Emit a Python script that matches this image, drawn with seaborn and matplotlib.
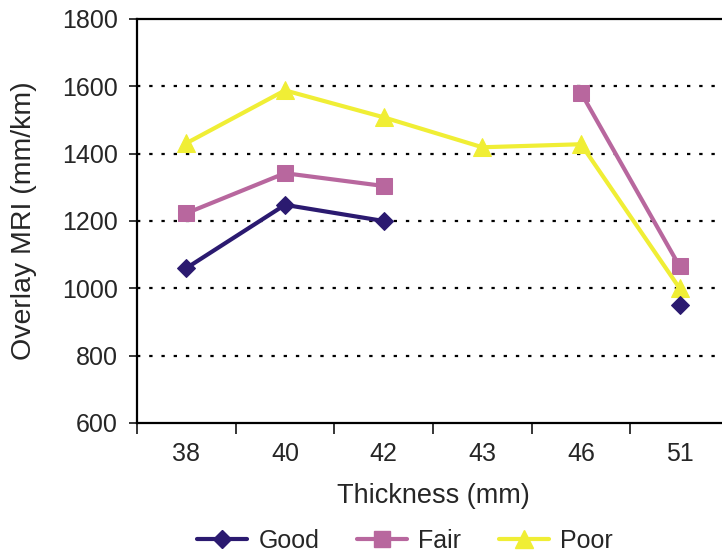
import numpy as np
import pandas as pd
import matplotlib
matplotlib.use("Agg")
import matplotlib.pyplot as plt
from matplotlib.lines import Line2D
import seaborn as sns

categories = ["38", "40", "42", "43", "46", "51"]
good = [1060, 1248, 1200, np.nan, np.nan, 950]
fair = [1223, 1342, 1304, np.nan, 1581, 1065]
poor = [1431, 1588, 1508, 1419, 1428, 1000]
y_ticks = [600, 800, 1000, 1200, 1400, 1600, 1800]

series = {"Good": good, "Fair": fair, "Poor": poor}
colors = {"Good": "#2b1a70", "Fair": "#b8679e", "Poor": "#f0ee35"}
markers = {"Good": "D", "Fair": "s", "Poor": "^"}
msizes = {"Good": 9.5, "Fair": 11.5, "Poor": 13}

rows = []
for name, vals in series.items():
    seg = 0
    for i, v in enumerate(vals):
        if np.isnan(v):
            seg += 1
            continue
        rows.append({"series": name, "pos": i, "value": v, "seg": seg})
df = pd.DataFrame(rows)

sns.set_style("white")
plt.rcParams["font.family"] = ["Liberation Sans", "DejaVu Sans"]

fig = plt.figure(figsize=(7.22, 5.57), dpi=100)
ax = fig.add_axes([137 / 722, (557 - 423) / 557, 592 / 722, 404 / 557])

for name in ["Fair", "Poor", "Good"]:
    sub = df[df["series"] == name]
    for s, g in sub.groupby("seg"):
        sns.lineplot(data=g, x="pos", y="value", ax=ax, color=colors[name],
                     marker=markers[name], markersize=msizes[name],
                     markeredgecolor=colors[name], linewidth=3,
                     estimator=None, sort=False, legend=False, zorder=3)

ax.set_xlim(-0.5, 5.5)
ax.set_ylim(600, 1800)
ax.set_yticks(y_ticks)
ax.set_yticklabels([str(t) for t in y_ticks], fontsize=18)
ax.set_xticks(range(len(categories)))
ax.set_xticklabels(categories, fontsize=18)
ax.set_xticks(np.arange(-0.5, 5.6, 1.0), minor=True)
ax.tick_params(axis="x", which="major", length=0, pad=14)
ax.tick_params(axis="x", which="minor", length=8, width=1.3, direction="out", bottom=True)
ax.tick_params(axis="y", length=6, width=1.3, direction="out", left=True, pad=8)

for t in y_ticks[1:-1]:
    ax.axhline(t, color="black", linestyle=(0, (1.5, 4)), linewidth=1.6, zorder=1)

for sp in ["left", "top", "bottom"]:
    ax.spines[sp].set_color("black")
    ax.spines[sp].set_linewidth(1.6)
ax.spines["right"].set_visible(False)

ax.set_xlabel("Thickness (mm)", fontsize=19.5, labelpad=12)
ax.set_ylabel("Overlay MRI (mm/km)", fontsize=20.5, labelpad=18)

handles = [Line2D([0], [0], color=colors[n], marker=markers[n], markersize=msizes[n],
                  markeredgecolor=colors[n], linewidth=3) for n in ["Good", "Fair", "Poor"]]
fig.legend(handles, ["Good", "Fair", "Poor"], loc="center", bbox_to_anchor=(405 / 722, 1 - 541 / 557),
           ncol=3, frameon=False, fontsize=18, handlelength=2.0, columnspacing=1.5, handletextpad=0.45,
           borderpad=0.1)

fig.savefig("out.png", dpi=100)
